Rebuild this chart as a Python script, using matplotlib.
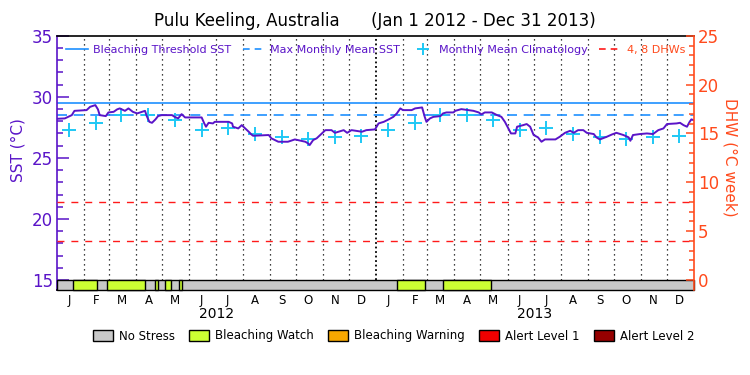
import matplotlib
matplotlib.use("Agg")
import matplotlib.pyplot as plt
import matplotlib.dates as mdates
import matplotlib.transforms as mtransforms
import numpy as np
from matplotlib.lines import Line2D
from matplotlib.patches import Patch

# daily SST (day number since Jan 1 2012, deg C)
sst_days = [0, 9, 17, 20, 34, 38, 44, 47, 49, 56, 59, 65, 69, 72, 78, 82, 87, 92, 101, 103,
            106, 109, 113, 116, 120, 132, 135, 139, 143, 147, 156, 166, 169, 171, 174, 179, 181,
            197, 201, 202, 208, 212, 220, 223, 225, 243, 246, 250, 254, 265, 273, 285, 288, 290,
            294, 298, 304, 308, 315, 319, 329, 333, 338, 350, 355, 365, 369, 375, 382, 386, 390,
            394, 397, 407, 411, 419, 422, 424, 428, 432, 440, 443, 447, 455, 457, 464, 478, 484,
            487, 491, 499, 505, 510, 514, 518, 521, 526, 528, 535, 539, 543, 547, 552, 556, 560,
            572, 577, 583, 589, 593, 598, 604, 608, 616, 619, 623, 631, 637, 642, 650, 656, 658,
            661, 669, 677, 684, 690, 696, 700, 711, 715, 719, 723, 726, 728, 730]
sst_vals = [28.2, 28.23, 28.5, 28.85, 28.91, 29.18, 29.32, 28.97, 28.5, 28.42, 28.72, 28.77,
            28.97, 29.05, 28.85, 29.05, 28.77, 28.64, 28.85, 28.42, 27.95, 27.87, 28.15, 28.42,
            28.5, 28.5, 28.36, 28.23, 28.58, 28.31, 28.31, 28.31, 27.82, 27.55, 27.87, 27.82,
            27.95, 27.95, 27.82, 27.55, 27.41, 27.68, 27.14, 26.92, 26.81, 26.87, 26.6, 26.46,
            26.32, 26.32, 26.51, 26.32, 26.19, 26.05, 26.46, 26.6, 27.0, 27.27, 27.27, 27.05,
            27.27, 27.05, 27.27, 27.14, 27.27, 27.33, 27.82, 27.95, 28.2, 28.36, 28.64, 29.05,
            28.91, 28.91, 29.05, 29.13, 28.36, 27.95, 28.23, 28.36, 28.42, 28.64, 28.72, 28.72,
            28.85, 28.99, 28.85, 28.72, 28.56, 28.72, 28.72, 28.5, 28.36, 27.95, 27.41, 27.0,
            27.0, 27.55, 27.68, 27.77, 27.55, 26.87, 26.68, 26.32, 26.51, 26.51, 26.73, 27.05,
            27.22, 27.05, 27.27, 27.27, 27.05, 26.95, 26.68, 26.51, 26.73, 26.92, 27.05, 26.87,
            26.68, 26.4, 26.87, 26.95, 27.0, 26.95, 27.27, 27.41, 27.77, 27.82, 27.87, 27.68,
            27.55, 27.95, 28.15, 28.1]

# monthly mean climatology (Jan..Dec), same for both years
clim_vals = [27.32, 27.87, 28.53, 28.53, 28.07, 27.32, 27.46, 26.92, 26.68, 26.54, 26.68, 26.78]
mmm = 28.48
threshold = 29.48
dhw_levels = [4, 8]

# bleaching watch periods (day numbers)
watch_start = [18, 57, 113, 124, 140, 390, 443]
watch_end = [46, 101, 116, 131, 144, 422, 498]

stress_names = ["No Stress", "Bleaching Watch", "Bleaching Warning", "Alert Level 1", "Alert Level 2"]
stress_colors = ["#c8c8c8", "#ccff33", "#f8a800", "#f00000", "#960000"]

purple = "#5a14c8"
orange = "#ff4a1c"
blue = "#1e90ff"
cyan = "#1ec8f5"

base = mdates.date2num(np.datetime64("2012-01-01"))
x0 = base
x1 = base + 731
sst_lo = 15 - 10 / 12.22
dhw_lo = (sst_lo - 15) * 25 / 20

fig = plt.figure(figsize=(7.5, 3.75), dpi=100)
ax = fig.add_axes([0.076, 0.2267, 0.8493, 0.678])
ax2 = ax.twinx()

# month grid
month_starts = mdates.date2num(np.arange("2012-02", "2014-01", dtype="datetime64[M]").astype("datetime64[D]"))
year_start = mdates.date2num(np.datetime64("2013-01-01"))
ax.vlines([m for m in month_starts if m != year_start], 15, 35, colors="black",
          linestyles=(0, (1, 3)), lw=0.9, zorder=1)
ax.vlines([year_start], 15, 35, colors="black", linestyles=(0, (1, 1.5)), lw=1.3, zorder=1)

# reference lines
ax.axhline(threshold, color=blue, lw=1.2, zorder=2)
ax.axhline(mmm, color=blue, lw=1.2, ls=(0, (6, 4)), zorder=2)
for lev in dhw_levels:
    ax2.axhline(lev, color="#ff1a1a", lw=1.0, ls=(0, (5, 5)))

# climatology crosses at mid-month
mid_months = mdates.date2num(np.arange("2012-01", "2014-01", dtype="datetime64[M]").astype("datetime64[D]")) + 14
ax.plot(mid_months, clim_vals * 2, ls="none", marker="+", ms=10, mew=1.4, color=cyan, zorder=4)

# SST line
ax.plot(base + np.array(sst_days), sst_vals, color=purple, lw=1.4, zorder=5)

# stress bar
ax.broken_barh([(x0, x1 - x0)], (sst_lo, 15 - sst_lo), facecolors=stress_colors[0],
               edgecolor="black", lw=1.0, zorder=6, clip_on=False)
ax.broken_barh([(base + s, e - s) for s, e in zip(watch_start, watch_end)], (sst_lo, 15 - sst_lo),
               facecolors=stress_colors[1], edgecolor="black", lw=1.0, zorder=7, clip_on=False)

ax.set_xlim(x0, x1)
ax.set_ylim(sst_lo, 35)
ax2.set_ylim(dhw_lo, 25)

# axes styling
for sp in ["top", "bottom"]:
    ax.spines[sp].set_color("black")
    ax.spines[sp].set_linewidth(1.2)
    ax2.spines[sp].set_visible(False)
ax.spines["right"].set_visible(False)
ax2.spines["left"].set_visible(False)
ax.spines["left"].set_color(purple)
ax.spines["left"].set_linewidth(1.2)
ax2.spines["right"].set_color(orange)
ax2.spines["right"].set_linewidth(1.2)

ax.set_yticks([15, 20, 25, 30, 35])
ax.set_yticks(np.arange(15, 36, 1), minor=True)
ax.tick_params(axis="y", which="both", direction="in", colors=purple, labelsize=12, width=1.1, pad=3)
ax.tick_params(axis="y", which="major", length=8.5)
ax.tick_params(axis="y", which="minor", length=4.3)

ax2.set_yticks([0, 5, 10, 15, 20, 25])
ax2.set_yticks(np.arange(0, 26, 1), minor=True)
ax2.tick_params(axis="y", which="both", direction="in", colors=orange, labelsize=12, width=1.1, pad=3)
ax2.tick_params(axis="y", which="major", length=6)
ax2.tick_params(axis="y", which="minor", length=3.6)

ax.set_xticks(mid_months)
ax.set_xticklabels([mdates.num2date(m).strftime("%b")[0] for m in mid_months])
ax.tick_params(axis="x", length=0, labelsize=8.5, pad=3)

trans = mtransforms.blended_transform_factory(ax.transData, ax.transAxes)
for yr in [2012, 2013]:
    mid = mdates.date2num(np.datetime64(f"{yr}-07-02"))
    ax.text(mid, -0.094, str(yr), transform=trans, ha="center", va="center", fontsize=10)

ax.set_ylabel("SST (°C)", color=purple, fontsize=11, ha="center", va="center")
ax.yaxis.set_label_coords(-0.062, 0.55)
ax2.set_ylabel("DHW (°C week)", color=orange, fontsize=11, rotation=270, ha="center", va="center")
ax2.yaxis.set_label_coords(1.057, 0.52)

fig.text(0.5, 0.945, "Pulu Keeling, Australia      (Jan 1 2012 - Dec 31 2013)",
         ha="center", va="center", fontsize=12)

# top legend
handles = [Line2D([], [], color=blue, lw=1.2),
           Line2D([], [], color=blue, lw=1.2, ls=(0, (4, 3))),
           Line2D([], [], color=cyan, ls="none", marker="+", ms=9, mew=1.4),
           Line2D([], [], color="#ff1a1a", lw=1.2, ls=(0, (4, 3)))]
labels = ["Bleaching Threshold SST", "Max Monthly Mean SST", "Monthly Mean Climatology", "4, 8 DHWs"]
leg = ax.legend(handles, labels, loc="center", bbox_to_anchor=(0.5, 0.944), ncol=4, frameon=False,
                fontsize=8, handlelength=2.0, handletextpad=0.5, columnspacing=1.0,
                labelcolor=[purple, purple, purple, orange])
leg.set_zorder(10)

# stress legend
patches = [Patch(facecolor=c, edgecolor="black", lw=1) for c in stress_colors]
fig.legend(patches, stress_names, loc="center", bbox_to_anchor=(0.525, 0.104), ncol=5, frameon=False,
           fontsize=8.5, handlelength=1.7, handleheight=1.0, handletextpad=0.5, columnspacing=1.2)

fig.savefig("out.png", dpi=100)
